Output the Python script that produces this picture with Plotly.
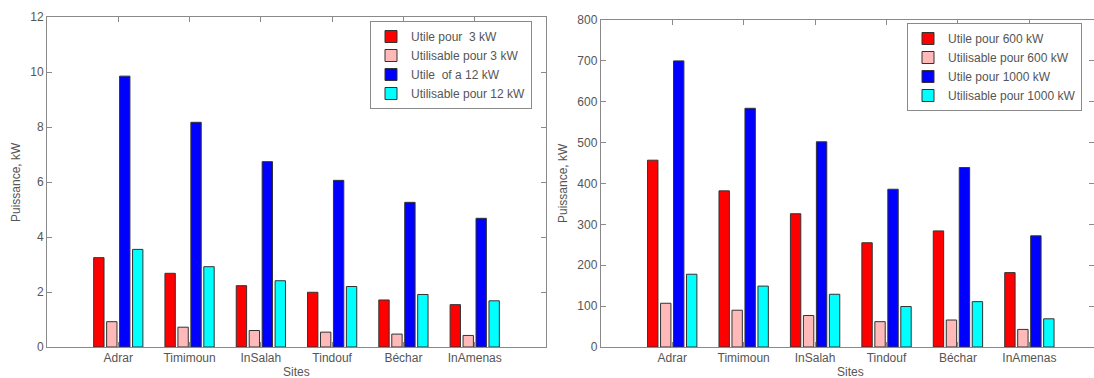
import plotly.graph_objects as go

sites = ["Adrar", "Timimoun", "InSalah", "Tindouf", "Béchar", "InAmenas"]

# Left panel (kW)
utile_3 = [3.25, 2.68, 2.23, 1.99, 1.71, 1.54]
utilisable_3 = [0.92, 0.72, 0.60, 0.54, 0.47, 0.42]
utile_12 = [9.85, 8.17, 6.74, 6.06, 5.26, 4.68]
utilisable_12 = [3.55, 2.92, 2.41, 2.20, 1.91, 1.68]

# Right panel (kW)
utile_600 = [457, 382, 326, 255, 284, 182]
utilisable_600 = [107, 90, 77, 62, 66, 43]
utile_1000 = [700, 584, 502, 386, 439, 272]
utilisable_1000 = [178, 149, 129, 99, 111, 69]

left_names = ["Utile pour  3 kW", "Utilisable pour 3 kW", "Utile  of a 12 kW", "Utilisable pour 12 kW"]
right_names = ["Utile pour 600 kW", "Utilisable pour 600 kW", "Utile pour 1000 kW", "Utilisable pour 1000 kW"]
colors = ["#ff0000", "#ffb9b9", "#0000ff", "#00ffff"]

xpos = list(range(1, len(sites) + 1))

W, H = 1094, 378
fig = go.Figure()

for vals, name, col in zip([utile_3, utilisable_3, utile_12, utilisable_12], left_names, colors):
    fig.add_trace(go.Bar(x=xpos, y=vals, name=name, marker=dict(color=col, line=dict(color="#333333", width=1)),
                         xaxis="x", yaxis="y", legend="legend", offsetgroup=name))
for vals, name, col in zip([utile_600, utilisable_600, utile_1000, utilisable_1000], right_names, colors):
    fig.add_trace(go.Bar(x=xpos, y=vals, name=name, marker=dict(color=col, line=dict(color="#333333", width=1)),
                         xaxis="x2", yaxis="y2", legend="legend2", offsetgroup=name))

line_col = "#8a8a8a"
txt_col = "#555555"
family = "Liberation Sans, Arial, sans-serif"
font = dict(family=family, size=12, color=txt_col)

def px_x(p):
    return p / W

def px_y(p):
    return (H - p) / H

ax_common = dict(showline=True, linecolor=line_col, linewidth=1, mirror="ticks", ticks="inside", ticklen=5,
                 tickcolor=line_col, showgrid=False, zeroline=False, tickfont=font, automargin=False)

left_x0, left_x1 = 47, 546
right_x0 = 600.8
unit = (left_x1 - left_x0) / 7.0
right_end = (W - 1 - right_x0) / unit

fig.update_layout(
    width=W, height=H, margin=dict(l=0, r=0, t=0, b=0, pad=0),
    paper_bgcolor="white", plot_bgcolor="white",
    font=font,
    barmode="group", bargap=0.273, bargroupgap=0.2,
    showlegend=True,
    xaxis=dict(domain=[px_x(left_x0), px_x(left_x1)], range=[0, 7], tickvals=xpos, ticktext=sites,
               anchor="y", **ax_common),
    yaxis=dict(domain=[px_y(347), px_y(17)], range=[0, 12], tickvals=[0, 2, 4, 6, 8, 10, 12],
               anchor="x", **ax_common),
    xaxis2=dict(domain=[px_x(right_x0), 1.0], range=[0, right_end], tickvals=xpos, ticktext=sites,
                anchor="y2", **ax_common),
    yaxis2=dict(domain=[px_y(347), px_y(20)], range=[0, 800], tickvals=list(range(0, 801, 100)),
                anchor="x2", **ax_common),
    legend=dict(x=px_x(370), y=px_y(21), xanchor="left", yanchor="top", bgcolor="white",
                bordercolor=line_col, borderwidth=1, font=dict(family=family, size=12, color=txt_col),
                tracegroupgap=0, itemwidth=30),
    legend2=dict(x=px_x(907), y=px_y(23), xanchor="left", yanchor="top", bgcolor="white",
                 bordercolor=line_col, borderwidth=1, font=dict(family=family, size=12, color=txt_col),
                 tracegroupgap=0, itemwidth=30),
    annotations=[
        dict(text="Puissance, kW", textangle=-90, x=px_x(16), y=px_y(182), xref="paper", yref="paper",
             showarrow=False, font=font, xanchor="center", yanchor="middle"),
        dict(text="Puissance, kW", textangle=-90, x=px_x(563), y=px_y(183), xref="paper", yref="paper",
             showarrow=False, font=font, xanchor="center", yanchor="middle"),
        dict(text="Sites", x=px_x(296), y=px_y(372), xref="paper", yref="paper",
             showarrow=False, font=font, xanchor="center", yanchor="middle"),
        dict(text="Sites", x=px_x(850), y=px_y(372), xref="paper", yref="paper",
             showarrow=False, font=font, xanchor="center", yanchor="middle"),
    ],
)

fig.write_html("out.html", config={"displayModeBar": False},
               post_script="document.body.style.margin='0';document.body.style.padding='0';"
                           "document.documentElement.style.overflow='hidden';")
